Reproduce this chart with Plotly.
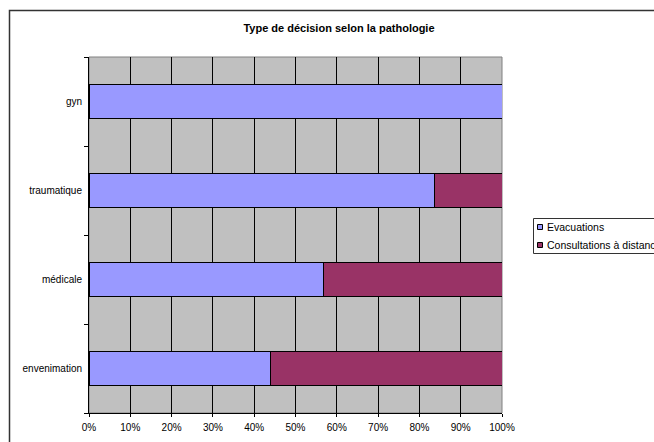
import plotly.graph_objects as go

categories = ["envenimation", "médicale", "traumatique", "gyn"]
evacuations = [0.44, 0.567, 0.837, 1.0]
consultations = [0.56, 0.433, 0.163, 0.0]
series_names = ["Evacuations", "Consultations à distance"]
series_colors = ["#9999FF", "#993366"]
x_ticks = [0, 0.1, 0.2, 0.3, 0.4, 0.5, 0.6, 0.7, 0.8, 0.9, 1.0]

W, H = 654, 442
ml, mr, mt, mb = 89, 152, 57, 29
pw, ph = W - ml - mr, H - mt - mb

fig = go.Figure()
for name, vals, col in zip(series_names, [evacuations, consultations], series_colors):
    fig.add_trace(go.Bar(
        y=categories, x=vals, orientation="h", name=name,
        marker=dict(color=col, line=dict(color="#000000", width=1)),
        showlegend=False,
    ))

def px_x(p):
    return (p - ml) / pw

def px_y(p):
    return (H - mb - p) / ph

shapes = [
    dict(type="rect", xref="paper", yref="paper",
         x0=0, x1=1, y0=0, y1=1,
         line=dict(color="#808080", width=1), fillcolor="rgba(0,0,0,0)",
         layer="below"),
    dict(type="rect", xref="paper", yref="paper",
         x0=px_x(9.5), x1=px_x(W + 20), y0=px_y(H + 20), y1=px_y(10.5),
         line=dict(color="#333333", width=1.5), fillcolor="rgba(0,0,0,0)",
         layer="below"),
    # legend box
    dict(type="rect", xref="paper", yref="paper",
         x0=px_x(533.5), x1=px_x(W + 20), y0=px_y(253.5), y1=px_y(218.5),
         line=dict(color="#333333", width=1), fillcolor="#FFFFFF",
         layer="above"),
]
annotations = []
leg_rows = [227, 245]
for name, col, yc in zip(series_names, series_colors, leg_rows):
    shapes.append(dict(type="rect", xref="paper", yref="paper",
                       x0=px_x(537.5), x1=px_x(542.5), y0=px_y(yc + 2.5), y1=px_y(yc - 2.5),
                       line=dict(color="#000000", width=1), fillcolor=col, layer="above"))
    annotations.append(dict(text=name, xref="paper", yref="paper",
                            x=px_x(545), y=px_y(yc), xanchor="left", yanchor="middle",
                            showarrow=False, font=dict(size=10.5, color="#000000")))

fig.update_layout(
    width=W, height=H,
    margin=dict(l=ml, r=mr, t=mt, b=mb, autoexpand=False),
    barmode="stack",
    bargap=0.607,
    plot_bgcolor="#C0C0C0",
    paper_bgcolor="#FFFFFF",
    font=dict(family="Liberation Sans, Arial, sans-serif", size=10, color="#000000"),
    title=dict(
        text="<b>Type de décision selon la pathologie</b>",
        x=339 / W, xref="container", xanchor="center",
        y=1 - 28 / H, yref="container", yanchor="middle",
        font=dict(size=11, color="#000000"),
    ),
    xaxis=dict(
        range=[0, 1], tickvals=x_ticks, tickformat=".0%",
        showgrid=True, gridcolor="#000000", gridwidth=1,
        showline=True, linecolor="#000000", linewidth=1,
        ticks="outside", ticklen=3, tickcolor="#000000",
        ticklabelstandoff=2,
        zeroline=False, fixedrange=True,
    ),
    yaxis=dict(
        categoryorder="array", categoryarray=categories,
        showgrid=False, showline=True, linecolor="#000000", linewidth=1,
        ticks="outside", ticklen=4, tickcolor="#000000", tickson="boundaries",
        ticklabelstandoff=4,
        zeroline=False, fixedrange=True,
    ),
    showlegend=False,
    shapes=shapes,
    annotations=annotations,
)

fig.write_html(
    "out.html",
    config={"displayModeBar": False},
    post_script="document.body.style.margin='0';document.body.style.overflow='hidden';",
)
